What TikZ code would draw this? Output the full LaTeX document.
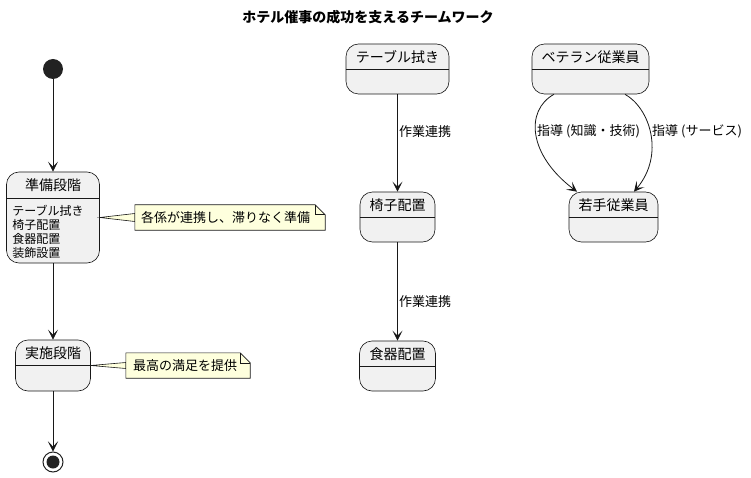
\documentclass[tikz,border=0pt]{standalone}
\usepackage{fontspec}
\setmainfont{Noto Sans CJK JP}
\usetikzlibrary{arrows.meta,calc}
\definecolor{stfill}{HTML}{F1F1F1}
\definecolor{stline}{HTML}{181818}
\definecolor{notefill}{HTML}{FEFFDD}
\definecolor{dotc}{HTML}{222222}
\tikzset{
 statebox/.style={draw=stline, fill=stfill, rounded corners=12.5pt, line width=0.6pt, inner sep=0},
 sttitle/.style={font=\fontsize{14}{16}\selectfont, inner sep=0, anchor=center},
 stbody/.style={font=\fontsize{12}{14}\selectfont, inner sep=0, anchor=north west, align=left},
 arrowline/.style={draw=stline, line width=0.8pt, -{Stealth[length=10pt,width=10pt,inset=5pt]}},
 notebox/.style={draw=stline, fill=notefill, line width=0.6pt, line join=miter},
 notetext/.style={font=\fontsize{13}{15}\selectfont, inner sep=0, anchor=west},
 elabel/.style={font=\fontsize{13}{15}\selectfont, inner sep=0, anchor=west},
 noteframe/.style={inner sep=0, draw=none},
}
\newcommand\mkstate[7]{%
 \node[statebox, minimum width=#4pt, minimum height=#5pt] (#1) at (#2,#3) {};
 \draw[stline, line width=0.6pt] ($(#1.north west)+(0,#6)$) -- ($(#1.north east)+(0,#6)$);
 \node[sttitle] (#1-t) at ($(#1.north)+(0,13.5)$) {#7};
}
\newcommand\mknote[5]{% name, cx, cy, w, h
 \node[noteframe, minimum width=#4pt, minimum height=#5pt] (#1) at (#2,#3) {};
}
\newcommand\drawnote[1]{%
 \draw[notebox] (#1.north west) -- ($(#1.north east)+(-10,0)$) -- ($(#1.north east)+(0,10)$) -- (#1.south east) -- (#1.south west) -- cycle;
 \draw[stline, line width=0.6pt, line join=miter] ($(#1.north east)+(-10,0)$) -- ($(#1.north east)+(-10,10)$) -- ($(#1.north east)+(0,10)$);
}
\begin{document}
\begin{tikzpicture}[x=1pt,y=-1pt]
\useasboundingbox (0,0) rectangle (751,478);
% title
\node[font=\bfseries\fontsize{14}{16}\selectfont, inner sep=0] (title) at (368,17) {ホテル催事の成功を支えるチームワーク};
% left column
\node[circle, fill=dotc, minimum size=20pt, inner sep=0] (start) at (53,69) {};
\mkstate{prep}{53}{217.5}{93}{91}{27}{準備段階}
\node[stbody] (prepbody) at ($(prep.north west)+(6,33)$) {テーブル拭き\\椅子配置\\食器配置\\装飾設置};
\mkstate{exec}{53}{365.5}{75}{51}{26}{実施段階}
\node[circle, draw=dotc, fill=white, line width=1pt, minimum size=20pt, inner sep=0] (end) at (53,462) {};
\node[circle, fill=dotc, minimum size=13pt, inner sep=0] (endin) at (end.center) {};
\draw[arrowline] (start.south) -- (prep.north);
\draw[arrowline] (prep.south) -- (exec.north);
\draw[arrowline] (exec.south) -- (end.north);
% notes
\mknote{n1}{230}{217.5}{190}{25}
\draw[notebox] (prep.east) -- ($(n1.west)+(0,-4)$) -- ($(n1.west)+(0,4)$) -- cycle;
\drawnote{n1}
\node[notetext] (n1t) at ($(n1.west)+(6,0.5)$) {各係が連携し、滞りなく準備};
\mknote{n2}{188}{365.5}{124}{25}
\draw[notebox] (exec.east) -- ($(n2.west)+(0,-3)$) -- ($(n2.west)+(0,3)$) -- cycle;
\drawnote{n2}
\node[notetext] (n2t) at ($(n2.west)+(7,0.5)$) {最高の満足を提供};
% middle column
\mkstate{tbl}{397.5}{69}{103}{50}{26}{テーブル拭き}
\mkstate{chair}{397.5}{217}{75}{50}{26}{椅子配置}
\mkstate{dish}{397.5}{366}{76}{50}{26}{食器配置}
\draw[arrowline] (tbl.south) -- (chair.north);
\draw[arrowline] (chair.south) -- (dish.north);
\node[elabel] (lab1) at (399,131.5) {作業連携};
\node[elabel] (lab2) at (399,301.5) {作業連携};
% right column
\mkstate{vet}{590.5}{69}{117}{50}{26}{ベテラン従業員}
\mkstate{young}{613.5}{217}{89}{50}{26}{若手従業員}
\draw[arrowline] ($(vet.south)+(-36.5,0)$) .. controls +(-29,16) and +(-49,-37) .. ($(young.north)+(-36.5,0)$);
\draw[arrowline] ($(vet.south)+(34.5,0)$) .. controls +(25,14) and +(31,-37) .. ($(young.north)+(20.5,0)$);
\node[elabel] (lab3) at (537,131.5) {指導 (知識・技術)};
\node[elabel] (lab4) at (652,131.5) {指導 (サービス)};
\end{tikzpicture}
\end{document}
